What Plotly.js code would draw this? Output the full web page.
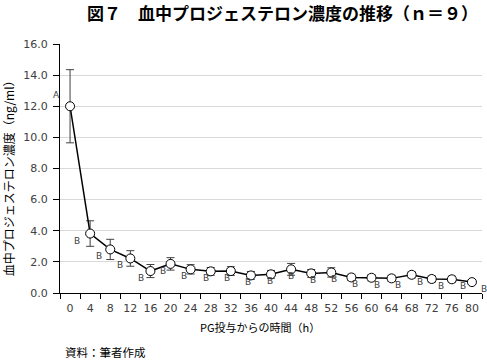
<!DOCTYPE html>
<html><head><meta charset="utf-8">
<script src="https://cdn.plot.ly/plotly-3.0.1.min.js"></script>
<style>html,body{margin:0;padding:0;background:#fff}#chart{width:487px;height:360px}</style>
</head><body><div id="chart"></div>
<script>
const hours = ["0","4","8","12","16","20","24","28","32","36","40","44","48","52","56","60","64","68","72","76","80"];
const meanValues = [12.0,3.82,2.8,2.22,1.41,1.87,1.52,1.39,1.41,1.13,1.2,1.52,1.26,1.32,1.0,0.98,0.94,1.17,0.9,0.88,0.7];
const errValues = [2.35,0.82,0.65,0.5,0.42,0.4,0.3,0.25,0.28,0.25,0.25,0.38,0.25,0.3,0.2,0.2,0.2,0.2,0.2,0.2,0.15];
const groupLabels = ["A","B","B","B","B","B","B","B","B","B","B","B","B","B","B","B","B","B","B","B","B"];

const FONT = "DejaVu Sans, Noto Sans CJK JP, sans-serif";
const JFONT = "Noto Sans CJK JP, sans-serif";

const n = hours.length;
const labelAnns = groupLabels.map((g, i) => ({
  x: i, y: meanValues[i], xref: "x", yref: "y", text: g, showarrow: false,
  xanchor: "center", yanchor: "middle",
  xshift: i === 0 ? -14 : -13 + (i - 1) * 25 / (n - 2),
  yshift: i === 0 ? 11 : -7,
  font: {family: FONT, size: 9, color: "#404040"}
}));

const traces = [
  {
    x: hours, y: meanValues, type: "scatter", mode: "lines+markers",
    line: {color: "#000", width: 1.5},
    marker: {symbol: "circle", size: 9, color: "#fff", line: {color: "#000", width: 1}},
    error_y: {type: "data", array: errValues, visible: true, color: "#404040", thickness: 1, width: 4},
    hoverinfo: "skip", showlegend: false
  }
];

const layout = {
  width: 487, height: 360,
  margin: {l: 60, r: 5, t: 44, b: 67},
  paper_bgcolor: "#fff", plot_bgcolor: "#fff",
  font: {family: FONT, size: 11, color: "#404040"},
  title: {text: "<b>図７　血中プロジェステロン濃度の推移（ｎ＝９）</b>", font: {family: JFONT, size: 17, color: "#000"},
          x: 0.58, xref: "container", xanchor: "center", y: 0.961, yref: "container", yanchor: "middle"},
  xaxis: {
    type: "category", range: [-0.5, n - 0.5], tickson: "boundaries", ticks: "outside", ticklen: 5, tickcolor: "#000",
    tickangle: 0, automargin: false, ticklabelstandoff: 5,
    showline: true, linecolor: "#000", linewidth: 1, showgrid: false, zeroline: false,
    tickfont: {family: FONT, size: 11, color: "#404040"}
  },
  yaxis: {
    range: [0, 16], dtick: 2, tickformat: ".1f", ticks: "outside", ticklen: 6, tickcolor: "#000",
    ticklabelstandoff: 3,
    showline: true, linecolor: "#000", linewidth: 1, showgrid: true, gridcolor: "#d9d9d9", gridwidth: 1,
    zeroline: false, automargin: false, tickfont: {family: FONT, size: 11, color: "#404040"}
  },
  annotations: labelAnns.concat([
    {text: "PG投与からの時間（h）", xref: "paper", yref: "paper", x: 0.474, y: -0.137, xanchor: "center", yanchor: "middle",
     showarrow: false, font: {family: JFONT, size: 11, color: "#000"}},
    {text: "血中プロジェステロン濃度（ng/ml）", xref: "paper", yref: "paper", x: -0.12, y: 0.474, xanchor: "center", yanchor: "middle",
     textangle: -90, showarrow: false, font: {family: JFONT, size: 12, color: "#000"}},
    {text: "資料：筆者作成", xref: "paper", yref: "paper", x: 0.007, y: -0.237, xanchor: "left", yanchor: "middle",
     showarrow: false, font: {family: JFONT, size: 11.5, color: "#000"}}
  ])
};

Plotly.newPlot("chart", traces, layout, {displayModeBar: false, staticPlot: true});
</script></body></html>
